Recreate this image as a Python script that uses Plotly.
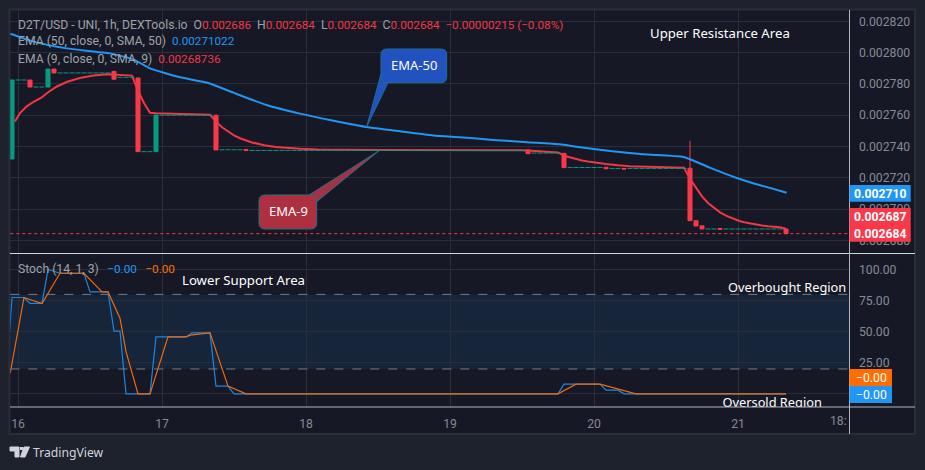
import plotly.graph_objects as go

# Hours counted from the start of the 16th; one candle per hour
day_hours = [0, 24, 48, 72, 96, 120]
day_labels = ["16", "17", "18", "19", "20", "21"]

# Candles with a real body
body_hours = [-1, 2, 5, 6, 16, 20, 23, 33, 38, 85, 91, 98, 101, 112, 113, 114, 117, 128]
body_open = [0.002732, 0.0027825, 0.002778, 0.0027895, 0.002788, 0.0027838, 0.0027367, 0.00276, 0.0027381,
             0.0027378, 0.0027356, 0.0027267, 0.002726, 0.0027261, 0.0026926, 0.0026893, 0.0026876, 0.0026873]
body_close = [0.0027825, 0.002778, 0.0027895, 0.002787, 0.002783, 0.0027367, 0.0027601, 0.0027378, 0.0027375,
              0.0027354, 0.0027265, 0.0027258, 0.0027256, 0.0026926, 0.0026892, 0.0026873, 0.0026871, 0.0026843]
body_high = [0.0027825, 0.0027825, 0.0027895, 0.0027895, 0.002788, 0.0027838, 0.0027601, 0.00276, 0.0027381,
             0.0027378, 0.0027356, 0.0027267, 0.002726, 0.0027435, 0.0026926, 0.0026893, 0.0026876, 0.0026873]

# Hours without any trade: (first hour, last hour, price)
flat_runs = [(0, 1, 0.0027825), (3, 4, 0.002778), (7, 15, 0.002787), (17, 19, 0.0027842), (21, 22, 0.0027367),
             (24, 32, 0.00276), (34, 37, 0.0027379), (39, 84, 0.0027375), (86, 90, 0.0027358), (92, 97, 0.0027266),
             (99, 100, 0.002726), (102, 111, 0.002726), (115, 116, 0.0026873), (118, 127, 0.0026873)]

ema50_hours = [-1.3, 2.6, 8.1, 15.3, 19.2, 22, 27, 31.7, 35.9, 41.4, 47, 52.6, 58.1, 63.7, 69.2, 73.7,
               79.2, 84.8, 90.3, 93.1, 98.7, 104.2, 110.9, 112.6, 115.3, 119.8, 123.7, 128.1]
ema50 = [0.0028121, 0.002807, 0.0028027, 0.0027995, 0.0027957, 0.0027899, 0.0027842, 0.0027806, 0.0027744,
         0.0027665, 0.002761, 0.0027565, 0.0027525, 0.0027497, 0.0027471, 0.0027459, 0.0027442, 0.0027427,
         0.0027414, 0.0027399, 0.0027371, 0.002735, 0.0027333, 0.0027309, 0.0027265, 0.0027199, 0.0027152, 0.0027105]

ema9_hours = [-0.5, 0.3, 1.4, 2.6, 3.9, 4.8, 6.4, 8.1, 10.3, 12.6, 14.8, 17, 19, 20, 21, 22, 23, 32,
              33, 34, 35, 36, 37, 38, 39, 40, 41, 43, 45, 47, 50, 55, 60, 84, 85, 86, 87, 88, 90,
              91, 92, 93, 94, 95, 96, 97, 98, 100, 102, 105, 110, 111,
              112, 113, 114, 115, 116, 117, 118, 119, 120, 121, 122, 123, 124, 125, 126, 127, 128]
ema9 = [0.0027559, 0.0027612, 0.0027655, 0.0027686, 0.0027712, 0.002774, 0.0027782, 0.0027812, 0.0027838,
        0.0027853, 0.0027861, 0.0027859, 0.0027853, 0.0027756, 0.0027678, 0.0027616, 0.0027613, 0.0027603,
        0.0027559, 0.0027523, 0.0027494, 0.0027471, 0.0027453, 0.0027438, 0.0027426, 0.0027417, 0.0027408,
        0.0027397, 0.002739, 0.0027385, 0.0027381, 0.0027379, 0.0027378, 0.0027376, 0.0027375, 0.0027372,
        0.002737, 0.0027367, 0.0027362, 0.0027341, 0.002733, 0.002732, 0.0027311, 0.0027304, 0.0027298,
        0.0027293, 0.0027288, 0.002728, 0.0027274, 0.0027271, 0.0027266, 0.0027265,
        0.0027193, 0.0027133, 0.0027081, 0.0027039, 0.0027006, 0.0026979, 0.0026958, 0.0026941, 0.0026927,
        0.0026916, 0.0026908, 0.00269, 0.0026895, 0.002689, 0.0026887, 0.0026884, 0.0026874]

stoch_k_hours = [-1.4, -1, 1, 2, 4, 5, 7, 11, 12, 15, 16, 17, 18, 22, 23, 28, 29, 32, 33, 35, 36,
                 90, 91, 97, 98, 100, 101, 128]
stoch_k = [50, 77.5, 77.5, 72.7, 72.7, 100, 97, 97, 82, 82, 50.4, 50.4, 0, 0, 45.8, 45.8, 49, 49, 6.2, 6.2, 0,
           0, 7.8, 7.8, 2.9, 2.9, 0, 0]
stoch_d_hours = [-1.3, 1, 4, 7, 11, 14, 15, 17, 18, 20, 22, 25, 28, 29, 32, 35, 38, 90, 93, 97, 103, 128]
stoch_d = [16.6, 77.5, 72.7, 97, 97, 82, 82, 60.9, 34, 0, 0, 45.8, 45.8, 47.5, 49, 6.2, 0, 0, 7.8, 7.8, 0, 0]

price_ticks = [0.00268, 0.0027, 0.00272, 0.00274, 0.00276, 0.00278, 0.0028, 0.00282]
stoch_ticks = [0, 25, 50, 75, 100]

WIDTH, HEIGHT = 925, 470
PAGE = "#1e222d"
PANEL = "#161925"
GRID = "#2a2e39"
RED = "#f9394a"
GREEN = "#089981"
BLUE = "#2196f3"
ORANGE = "#ff6d00"
AXIS_TEXT = "#868993"
FONT = "Noto Sans"
SCALE_FONT = "Roboto"


def fx(px):
    return px / WIDTH


def fy(px):
    return 1 - px / HEIGHT


def paper_rect(x0, y0, x1, y1, **kw):
    return dict(type="rect", xref="paper", yref="paper", x0=fx(x0), x1=fx(x1), y0=fy(y0), y1=fy(y1), **kw)


def paper_line(x0, y0, x1, y1, color, width=1):
    return dict(type="line", xref="paper", yref="paper", x0=fx(x0), x1=fx(x1), y0=fy(y0), y1=fy(y1),
                line=dict(color=color, width=width), layer="above")


def pt(x, y):
    return f"{fx(x):.5f},{fy(y):.5f}"


def paper_path(points, fill, line_color):
    d = "M " + " L ".join(pt(x, y) for x, y in points) + " Z"
    return dict(type="path", xref="paper", yref="paper", path=d, fillcolor=fill,
                line=dict(color=line_color, width=1), layer="above")


def bubble(x0, y0, x1, y1, r, fill, line_color):
    d = (f"M {pt(x0 + r, y0)} L {pt(x1 - r, y0)} Q {pt(x1, y0)} {pt(x1, y0 + r)} "
         f"L {pt(x1, y1 - r)} Q {pt(x1, y1)} {pt(x1 - r, y1)} L {pt(x0 + r, y1)} "
         f"Q {pt(x0, y1)} {pt(x0, y1 - r)} L {pt(x0, y0 + r)} Q {pt(x0, y0)} {pt(x0 + r, y0)} Z")
    return dict(type="path", xref="paper", yref="paper", path=d, fillcolor=fill,
                line=dict(color=line_color, width=1), layer="above")


def label(text, x, y, size=13, color="#ffffff", anchor="center", family=FONT, xshift=0):
    return dict(text=text, xref="paper", yref="paper", x=fx(x), y=fy(y), xanchor=anchor, yanchor="middle",
                xshift=xshift, showarrow=False, font=dict(size=size, color=color, family=family), align="left")


# Each flat hour is a short horizontal stroke, broken between neighbouring hours
flat_x, flat_y = [], []
for first, last, price in flat_runs:
    for hour in range(first, last + 1):
        flat_x += [hour - 0.42, hour + 0.42, None]
        flat_y += [price, price, None]

fig = go.Figure()

fig.add_trace(go.Candlestick(
    x=body_hours, open=body_open, high=body_high,
    low=[min(o, c) for o, c in zip(body_open, body_close)], close=body_close,
    increasing=dict(line=dict(color=GREEN, width=1), fillcolor=GREEN),
    decreasing=dict(line=dict(color=RED, width=1), fillcolor=RED),
    hoverinfo="skip", showlegend=False, xaxis="x", yaxis="y"))
# The fast average runs under the flat hours, which stay visible on top of it
fig.add_trace(go.Scatter(x=ema9_hours, y=ema9, mode="lines", line=dict(color="#f23645", width=2),
                         hoverinfo="skip", showlegend=False, xaxis="x", yaxis="y"))
fig.add_trace(go.Scatter(x=flat_x, y=flat_y, mode="lines", line=dict(color=GREEN, width=1),
                         hoverinfo="skip", showlegend=False, xaxis="x", yaxis="y"))
fig.add_trace(go.Scatter(x=ema50_hours, y=ema50, mode="lines",
                         line=dict(color=BLUE, width=2, shape="spline", smoothing=0.5),
                         hoverinfo="skip", showlegend=False, xaxis="x", yaxis="y"))

fig.add_trace(go.Scatter(x=stoch_k_hours, y=stoch_k, mode="lines", line=dict(color="#1c86de", width=1.2),
                         hoverinfo="skip", showlegend=False, xaxis="x2", yaxis="y2"))
fig.add_trace(go.Scatter(x=stoch_d_hours, y=stoch_d, mode="lines", line=dict(color="#ef6a0c", width=1.2),
                         hoverinfo="skip", showlegend=False, xaxis="x2", yaxis="y2"))
# Kept inside the lower pane so that the pane edge cuts it off
fig.add_trace(go.Scatter(x=[125.7], y=[-8.2], mode="text", text=["Oversold Region"],
                         textfont=dict(size=12.8, color="#ffffff", family=FONT), textposition="middle center",
                         cliponaxis=True, hoverinfo="skip", showlegend=False, xaxis="x2", yaxis="y2"))

x_range = [(10.3 - 18) / 6, (849.5 - 18) / 6]
x_domain = [fx(10.3), fx(849.5)]
axis_font = dict(size=12.2, color=AXIS_TEXT, family=SCALE_FONT)

shapes = [
    paper_rect(9.5, 9.5, 915, 434, fillcolor=PANEL, line=dict(color=GRID, width=2), layer="below"),
    dict(type="rect", xref="x2 domain", yref="y2", x0=0, x1=1, y0=20, y1=80,
         fillcolor="rgba(33,150,243,0.1)", line=dict(width=0), layer="below"),
    dict(type="line", xref="x2 domain", yref="y2", x0=0, x1=1, y0=80, y1=80,
         line=dict(color="#787b86", width=1, dash="dash"), layer="above"),
    dict(type="line", xref="x2 domain", yref="y2", x0=0, x1=1, y0=20, y1=20,
         line=dict(color="#787b86", width=1, dash="dash"), layer="above"),
    dict(type="line", xref="x domain", yref="y", x0=0, x1=1, y0=body_close[-1], y1=body_close[-1],
         line=dict(color=RED, width=1, dash="dot"), layer="above"),
    paper_line(10, 253.5, 915, 253.5, "#d1d4dc"),
    paper_line(10, 407, 915, 407, "#b2b5be"),
    paper_line(849.5, 10, 849.5, 434, "#b2b5be"),
    # Callout bubbles
    paper_path([(366.7, 126.7), (381, 74), (381, 82), (388, 82.7)], "#2251c0", "#1a6ea0"),
    bubble(381, 49, 446.7, 82.7, 6, "#2251c0", "#1a6ea0"),
    paper_path([(379, 150.7), (309, 195), (316.7, 201.7)], "#a33247", "#2a6d80"),
    bubble(259, 195, 316.7, 229, 6, "#ae2f3f", "#2a6d80"),
    # Price tags on the right scale
    paper_rect(849.5, 185, 910.7, 201.7, fillcolor=BLUE, line=dict(width=0), layer="above"),
    paper_rect(849.5, 208, 910.7, 241.7, fillcolor=RED, line=dict(width=0), layer="above"),
    paper_rect(849.5, 369, 892, 386, fillcolor=ORANGE, line=dict(width=0), layer="above"),
    paper_rect(849.5, 386, 892, 403, fillcolor=BLUE, line=dict(width=0), layer="above"),
    # TradingView mark
    paper_path([(10, 447), (19, 447), (19, 457), (15, 457), (15, 451), (10, 451)], "#d1d4dc", "#d1d4dc"),
    paper_path([(24, 447), (29.5, 447), (25, 457), (20.5, 457)], "#d1d4dc", "#d1d4dc"),
    paper_rect(20, 447, 23, 450, fillcolor="#d1d4dc", line=dict(width=0), layer="above"),
]

GREY = "#9ea1aa"
TV_RED = "#f23645"
GAP = "\u00a0\u00a0"
WIDE_GAP = "\u00a0\u00a0\u2009"


def value(text, color):
    return f'<span style="color:{color};font-size:11.7px">{text}</span>'


def grey(text):
    return f'<span style="color:{GREY}">{text}</span>'


quote = (grey(f"D2T/USD - UNI, 1h, DEXTools.io{GAP}O") + value("0.002686", TV_RED)
         + grey(f"{GAP}H") + value("0.002684", TV_RED) + grey(f"{GAP}L") + value("0.002684", TV_RED)
         + grey(f"{GAP}C") + value(f"0.002684{GAP}−0.00000215 (−0.08%)", TV_RED))

LEGEND = dict(size=12.2, anchor="left", family=SCALE_FONT, xshift=-2)
annotations = [
    label(quote, 18, 25, color=TV_RED, **LEGEND),
    label(f'EMA (50, close, 0, SMA, 50){GAP}' + value("0.00271022", BLUE), 18, 41.5, color=GREY, **LEGEND),
    label(f'EMA (9, close, 0, SMA, 9){GAP}' + value("0.00268736", TV_RED), 18, 59, color=GREY, **LEGEND),
    label(f'Stoch (14, 1, 3){WIDE_GAP}' + value("−0.00", BLUE) + WIDE_GAP + value("−0.00", ORANGE),
          18, 269, color=GREY, **LEGEND),
    label("EMA-50", 414, 65, size=13),
    label("EMA-9", 288, 211.5, size=13),
    label("Upper Resistance Area", 720, 33, size=13.2),
    label("Lower Support Area", 243.7, 280, size=13.2),
    label("Overbought Region", 787, 287, size=12.8),
    label("<b>0.002710</b>", 880, 193.5, size=12.2, family=SCALE_FONT),
    label("<b>0.002687</b>", 880, 216.8, size=12.2, family=SCALE_FONT),
    label("<b>0.002684</b>", 880, 234, size=12.2, family=SCALE_FONT),
    label("−0.00", 871, 377.7, size=12.2, family=SCALE_FONT),
    label("−0.00", 871, 394.5, size=12.2, family=SCALE_FONT),
    label("18:", 849, 420.7, size=12.2, color=AXIS_TEXT, anchor="right", family=SCALE_FONT),
    label("TradingView", 31, 452, size=12.2, color="#d1d4dc", anchor="left"),
]

fig.update_layout(
    width=WIDTH, height=HEIGHT, autosize=False,
    margin=dict(l=0, r=0, t=0, b=0),
    paper_bgcolor=PAGE, plot_bgcolor=PANEL,
    showlegend=False, hovermode=False, dragmode=False,
    boxmode="overlay", boxgap=0.18, boxgroupgap=0.18,
    xaxis=dict(domain=x_domain, range=x_range, anchor="y", rangeslider=dict(visible=False),
               tickvals=day_hours, ticktext=[""] * len(day_hours), showgrid=True, gridcolor=GRID, gridwidth=1,
               zeroline=False, showline=False, ticks=""),
    yaxis=dict(domain=[fy(253.5), fy(10)], range=[0.00267163, 0.00282722], side="right", anchor="x",
               tickvals=price_ticks, tickformat=".6f", showgrid=True, gridcolor=GRID, zeroline=False,
               showline=False, ticks="outside", ticklen=6, tickcolor="rgba(0,0,0,0)", tickfont=axis_font),
    xaxis2=dict(domain=x_domain, range=x_range, anchor="y2", tickvals=day_hours, ticktext=day_labels,
                showgrid=True, gridcolor=GRID, zeroline=False, showline=False, ticks="outside", ticklen=5,
                tickcolor="rgba(0,0,0,0)", tickfont=axis_font),
    yaxis2=dict(domain=[fy(407), fy(253.5)], range=[-10.6, 112.9], side="right", anchor="x2",
                tickvals=stoch_ticks, tickformat=".2f", showgrid=True, gridcolor=GRID, zeroline=False,
                showline=False, ticks="outside", ticklen=6, tickcolor="rgba(0,0,0,0)", tickfont=axis_font),
    shapes=shapes, annotations=annotations,
)

fig.write_html("out.html", config=dict(displayModeBar=False))
